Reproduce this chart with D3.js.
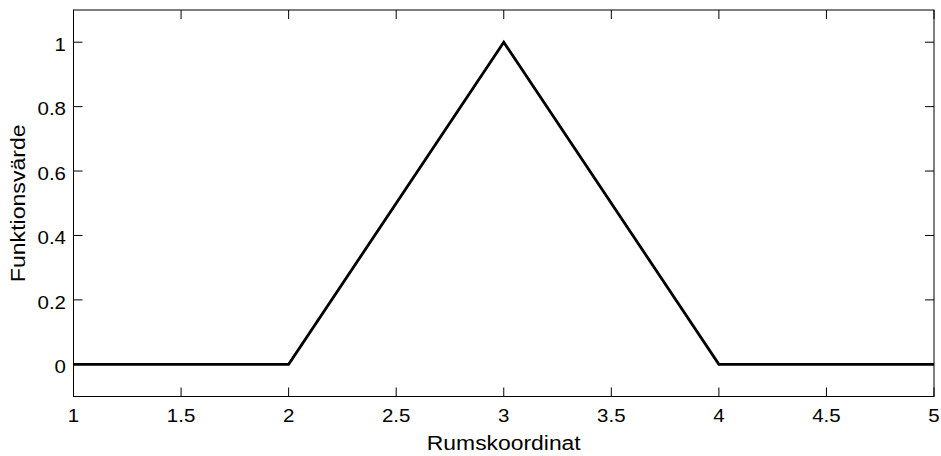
<!DOCTYPE html>
<html><head><meta charset="utf-8">
<script src="https://cdn.jsdelivr.net/npm/d3@7"></script>
<style>body{margin:0;background:#fff}svg{display:block}text{font-family:"Liberation Sans",Arial,Helvetica,sans-serif;fill:#000}</style>
</head><body>
<svg id="c" width="941" height="456"></svg>
<script>
const xs = [1, 2, 3, 4, 5];
const ys = [0, 0, 1, 0, 0];
const xTicks = [1, 1.5, 2, 2.5, 3, 3.5, 4, 4.5, 5];
const yTicks = [0, 0.2, 0.4, 0.6, 0.8, 1];
const xLabel = "Rumskoordinat";
const yLabel = "Funktionsvärde";

const svg = d3.select("#c");
const L = 73.5, R = 934, T = 10, B = 396.5;
const x = d3.scaleLinear().domain([1, 5]).range([L, R]);
const y = d3.scaleLinear().domain([-0.1, 1.1]).range([B, T]);
const tl = 9;
const fmt = d3.format("~g");

const g = svg.append("g");
xTicks.forEach(v => {
  g.append("line").attr("x1", x(v)).attr("x2", x(v)).attr("y1", B).attr("y2", B - tl).attr("stroke", "#000").attr("stroke-width", 1);
  g.append("line").attr("x1", x(v)).attr("x2", x(v)).attr("y1", T).attr("y2", T + tl).attr("stroke", "#000").attr("stroke-width", 1);
  g.append("text").attr("transform", `translate(${x(v)},422) scale(1.17,1)`).attr("text-anchor", "middle").attr("font-size", 17.5).text(fmt(v));
});
yTicks.forEach(v => {
  g.append("line").attr("x1", L).attr("x2", L + tl).attr("y1", y(v)).attr("y2", y(v)).attr("stroke", "#000").attr("stroke-width", 1);
  g.append("line").attr("x1", R).attr("x2", R - tl).attr("y1", y(v)).attr("y2", y(v)).attr("stroke", "#000").attr("stroke-width", 1);
  g.append("text").attr("transform", `translate(${L - 7.5},${y(v) + 8.8}) scale(1.17,1)`).attr("text-anchor", "end").attr("font-size", 17.5).text(fmt(v));
});
g.append("rect").attr("x", L).attr("y", T).attr("width", R - L).attr("height", B - T).attr("fill", "none").attr("stroke", "#000").attr("stroke-width", 1);

const line = d3.line().x((d, i) => x(xs[i])).y(d => y(d));
svg.append("path").datum(ys).attr("d", line).attr("fill", "none").attr("stroke", "#000").attr("stroke-width", 2.8).attr("stroke-linejoin", "miter");

svg.append("text").attr("transform", `translate(${(L + R) / 2},450) scale(1.09,1)`).attr("text-anchor", "middle").attr("font-size", 21).text(xLabel);
svg.append("text").attr("transform", `translate(25,${(T + B) / 2}) rotate(-90) scale(1.1,1)`).attr("text-anchor", "middle").attr("font-size", 21).text(yLabel);
</script>
</body></html>
